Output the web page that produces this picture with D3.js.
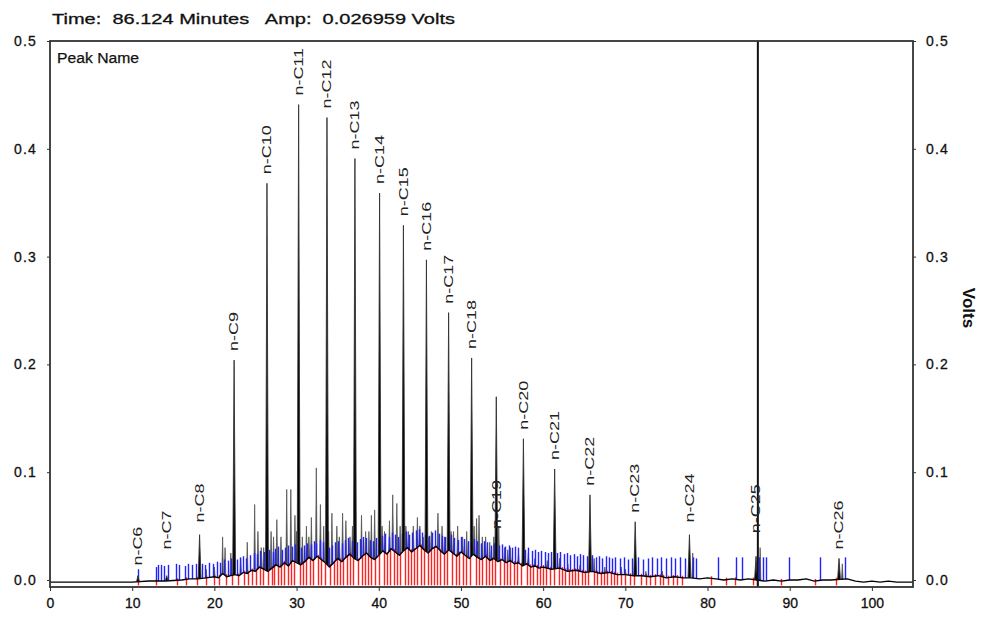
<!DOCTYPE html>
<html>
<head>
<meta charset="utf-8">
<script src="https://cdn.jsdelivr.net/npm/d3@7"></script>
<style>
  body { margin: 0; background: #fff; }
  svg { display: block; font-family: "Liberation Sans", Arial, sans-serif; }
</style>
</head>
<body>
<div id="chart"></div>
<script>
// Labelled n-alkane peaks: name, retention time (min), height (V), level where the label starts (V)
const peakNames = ['n-C6', 'n-C7', 'n-C8', 'n-C9', 'n-C10', 'n-C11', 'n-C12', 'n-C13', 'n-C14', 'n-C15', 'n-C16',
  'n-C17', 'n-C18', 'n-C19', 'n-C20', 'n-C21', 'n-C22', 'n-C23', 'n-C24', 'n-C25', 'n-C26'];
const peakTimes = [10.7, 14.2, 18.2, 22.4, 26.4, 30.25, 33.7, 37.1, 40.1, 43.0, 45.8,
  48.5, 51.3, 54.3, 57.6, 61.4, 65.7, 71.2, 77.8, 85.9, 96.0];
const peakHeights = [0.004, 0.004, 0.042, 0.204, 0.368, 0.441, 0.429, 0.391, 0.359, 0.329, 0.297,
  0.248, 0.206, 0.170, 0.131, 0.103, 0.079, 0.054, 0.042, 0.022, 0.020];
const labelBase = [0.005, 0.020, 0.045, 0.204, 0.368, 0.441, 0.429, 0.391, 0.359, 0.329, 0.297,
  0.248, 0.206, 0.039, 0.131, 0.103, 0.079, 0.054, 0.045, 0.035, 0.020];

// Unlabelled smaller peaks [time, height]
const minorPeaks = [
  [19.0, 0.010], [20.0, 0.012], [21.0, 0.040], [21.3, 0.030], [22.0, 0.025], [23.2, 0.020], [24.0, 0.035],
  [24.9, 0.070], [25.3, 0.045], [25.7, 0.030], [26.0, 0.030], [26.9, 0.045], [27.2, 0.040], [27.6, 0.056],
  [28.1, 0.040], [28.8, 0.084], [29.3, 0.084], [29.8, 0.060], [30.0, 0.045], [30.7, 0.040], [31.2, 0.050],
  [31.5, 0.040], [31.8, 0.058], [32.4, 0.104], [32.9, 0.070], [33.3, 0.050], [33.9, 0.045], [34.3, 0.062],
  [34.9, 0.050], [35.2, 0.040], [35.6, 0.062], [36.0, 0.055], [36.5, 0.040], [36.8, 0.050], [37.9, 0.060],
  [38.4, 0.045], [38.8, 0.045], [39.1, 0.060], [39.5, 0.065], [40.4, 0.050], [40.7, 0.045], [41.3, 0.055],
  [41.7, 0.079], [42.2, 0.071], [42.6, 0.050], [43.3, 0.050], [43.6, 0.045], [44.2, 0.050], [44.7, 0.058],
  [45.0, 0.050], [45.4, 0.040], [46.1, 0.040], [46.4, 0.045], [47.2, 0.062], [47.7, 0.050], [48.0, 0.040],
  [48.8, 0.045], [49.1, 0.045], [49.6, 0.050], [50.2, 0.040], [50.7, 0.045], [51.6, 0.050], [51.9, 0.057],
  [52.2, 0.060], [52.6, 0.040], [53.0, 0.040], [53.5, 0.035], [54.0, 0.040], [54.6, 0.050], [55.3, 0.030],
  [55.7, 0.028], [56.0, 0.030], [57.0, 0.025], [58.2, 0.025], [59.0, 0.020], [60.5, 0.018], [62.0, 0.020],
  [63.0, 0.015], [64.5, 0.014], [66.2, 0.020], [67.5, 0.012], [69.5, 0.012], [70.0, 0.010], [72.5, 0.008],
  [74.5, 0.008], [78.2, 0.025], [86.4, 0.030], [96.4, 0.015]
];

// Baseline / unresolved hump of the trace [time, volts]
const humpPoints = [
  [0, -0.002], [5, -0.002], [8, -0.002], [10, -0.002], [12, -0.001], [14, -0.001], [16, 0.000], [17, 0.001],
  [18, 0.001], [19, 0.002], [20, 0.003], [20.5, 0.002], [21, 0.006], [21.5, 0.003], [22, 0.004], [22.5, 0.005],
  [23, 0.004], [23.5, 0.007], [24, 0.006], [24.5, 0.009], [25, 0.008], [25.5, 0.012], [26, 0.010], [26.5, 0.008],
  [27, 0.011], [27.5, 0.014], [28, 0.012], [28.5, 0.016], [29, 0.013], [29.5, 0.018], [30, 0.016], [30.5, 0.014],
  [31, 0.017], [31.5, 0.021], [32, 0.018], [32.5, 0.022], [33, 0.019], [33.5, 0.016], [34, 0.012], [34.5, 0.016],
  [35, 0.020], [35.5, 0.017], [36, 0.021], [36.5, 0.024], [37, 0.020], [37.5, 0.018], [38, 0.022], [38.5, 0.025],
  [39, 0.021], [39.5, 0.019], [40, 0.023], [40.5, 0.027], [41, 0.024], [41.5, 0.029], [42, 0.026], [42.5, 0.023],
  [43, 0.027], [43.5, 0.030], [44, 0.026], [44.5, 0.029], [45, 0.032], [45.5, 0.028], [46, 0.025], [46.5, 0.029],
  [47, 0.031], [47.5, 0.027], [48, 0.024], [48.5, 0.028], [49, 0.025], [49.5, 0.022], [50, 0.026], [50.5, 0.023],
  [51, 0.020], [51.5, 0.024], [52, 0.021], [52.5, 0.019], [53, 0.022], [53.5, 0.018], [54, 0.020], [54.5, 0.017],
  [55, 0.019], [55.5, 0.016], [56, 0.018], [56.5, 0.015], [57, 0.016], [57.5, 0.013], [58, 0.015], [58.5, 0.012],
  [59, 0.013], [59.5, 0.011], [60, 0.012], [61, 0.010], [62, 0.011], [63, 0.008], [64, 0.009], [65, 0.007],
  [66, 0.008], [67, 0.006], [68, 0.007], [69, 0.005], [70, 0.005], [71, 0.004], [72, 0.004], [73, 0.003],
  [74, 0.004], [75, 0.002], [76, 0.003], [77, 0.002], [78, 0.002], [79, 0.001], [80, 0.002], [81, 0.001],
  [82, 0.000], [83, 0.001], [84, 0.000], [85, 0.001], [86, 0.000], [87, -0.001], [88, 0.000], [89, -0.001],
  [90, 0.000], [91, 0.000], [92, 0.001], [93, -0.001], [94, 0.000], [95, 0.000], [97, 0.001], [98, -0.001],
  [99, -0.002], [100, -0.001], [101, -0.002], [102, -0.001], [103, -0.002], [105, -0.002]
];

// Blue peak-start markers [time, top volts]
const blueTicks = [
  [10.7, 0.010], [12.9, 0.012], [13.1, 0.014], [13.5, 0.014], [13.9, 0.013], [14.4, 0.014], [15.3, 0.015],
  [15.7, 0.014], [16.4, 0.013], [16.8, 0.015], [17.3, 0.014], [17.8, 0.015], [18.5, 0.015], [18.9, 0.014],
  [19.3, 0.016], [19.8, 0.015], [20.3, 0.017], [20.7, 0.016], [21.2, 0.019], [21.6, 0.018], [22.0, 0.020],
  [22.7, 0.019], [23.1, 0.021], [23.5, 0.022], [23.9, 0.020], [24.3, 0.023], [24.8, 0.025], [25.2, 0.024],
  [25.6, 0.027], [26.0, 0.026], [26.7, 0.028], [27.1, 0.026], [27.4, 0.029], [27.8, 0.031], [28.2, 0.028],
  [28.6, 0.030], [29.0, 0.032], [29.4, 0.031], [29.8, 0.033], [30.5, 0.030], [30.9, 0.032], [31.3, 0.034],
  [31.7, 0.033], [32.1, 0.036], [32.4, 0.034], [32.8, 0.037], [33.2, 0.035], [33.9, 0.030], [34.3, 0.032],
  [34.7, 0.035], [35.1, 0.036], [35.5, 0.034], [35.9, 0.037], [36.3, 0.039], [36.7, 0.036], [37.3, 0.035],
  [37.7, 0.038], [38.1, 0.040], [38.5, 0.039], [38.9, 0.037], [39.3, 0.036], [39.7, 0.039], [40.4, 0.041],
  [40.8, 0.043], [41.2, 0.040], [41.6, 0.044], [42.0, 0.042], [42.4, 0.040], [42.8, 0.043], [43.3, 0.045],
  [43.7, 0.042], [44.1, 0.044], [44.5, 0.046], [44.9, 0.047], [45.3, 0.044], [45.6, 0.042], [46.1, 0.041],
  [46.5, 0.044], [46.9, 0.046], [47.3, 0.043], [47.7, 0.041], [48.1, 0.040], [48.8, 0.042], [49.2, 0.039],
  [49.6, 0.037], [50.0, 0.040], [50.4, 0.038], [50.8, 0.036], [51.6, 0.038], [52.0, 0.036], [52.4, 0.034],
  [52.8, 0.036], [53.2, 0.035], [53.6, 0.032], [54.0, 0.034], [54.6, 0.032], [55.0, 0.033], [55.4, 0.031],
  [55.8, 0.032], [56.2, 0.030], [56.6, 0.031], [57.0, 0.030], [57.8, 0.028], [58.2, 0.030], [58.6, 0.027],
  [59.0, 0.028], [59.4, 0.026], [59.8, 0.027], [60.2, 0.026], [60.6, 0.025], [61.0, 0.026], [61.7, 0.025],
  [62.1, 0.026], [62.5, 0.024], [62.9, 0.025], [63.3, 0.023], [63.7, 0.024], [64.1, 0.022], [64.5, 0.024],
  [64.9, 0.023], [65.3, 0.022], [66.0, 0.023], [66.4, 0.021], [66.8, 0.022], [67.2, 0.020], [67.6, 0.022],
  [68.0, 0.021], [68.4, 0.020], [68.8, 0.021], [69.3, 0.020], [69.8, 0.021], [70.3, 0.019], [70.8, 0.020],
  [71.6, 0.021], [72.2, 0.019], [72.7, 0.020], [73.3, 0.021], [73.9, 0.020], [74.4, 0.021], [74.9, 0.020],
  [75.5, 0.021], [76.0, 0.020], [76.6, 0.021], [77.3, 0.020], [78.2, 0.021], [78.6, 0.020], [81.3, 0.021],
  [83.5, 0.021], [84.2, 0.021], [86.3, 0.021], [86.7, 0.021], [87.1, 0.021], [89.9, 0.021], [93.7, 0.021],
  [96.7, 0.021]
];

// Red baseline-drop markers (time, min)
const redTicks = [
  10.7, 12.9, 15.5, 16.6, 17.9, 19.0, 19.9, 20.6, 21.4, 22.1, 22.9, 23.6, 24.1, 24.6, 25.1, 25.5, 25.9, 26.5,
  27.0, 27.3, 27.7, 28.1, 28.5, 28.9, 29.3, 29.7, 30.4, 30.8, 31.2, 31.6, 32.0, 32.6, 33.0, 33.5, 34.1, 34.5,
  34.9, 35.3, 35.7, 36.1, 36.5, 36.9, 37.5, 37.9, 38.3, 38.7, 39.1, 39.5, 40.0, 40.6, 41.0, 41.4, 41.8, 42.2,
  42.6, 43.2, 43.5, 43.9, 44.3, 44.7, 45.1, 45.5, 46.0, 46.3, 46.7, 47.1, 47.5, 47.9, 48.3, 48.9, 49.4, 49.8,
  50.2, 50.6, 51.1, 51.8, 52.2, 52.6, 53.0, 53.4, 53.8, 54.2, 54.8, 55.2, 55.6, 56.0, 56.4, 56.8, 57.3, 58.0,
  58.4, 58.8, 59.2, 59.6, 60.0, 60.4, 60.8, 61.3, 61.9, 62.3, 62.7, 63.1, 63.5, 63.9, 64.3, 64.7, 65.1, 65.5,
  66.2, 66.6, 67.0, 67.4, 67.8, 68.2, 68.6, 69.0, 69.5, 70.0, 70.6, 71.0, 71.9, 72.5, 73.0, 73.6, 74.2, 74.6,
  75.2, 75.8, 76.3, 76.9, 80.4, 82.3, 83.4, 85.5, 86.0, 88.9, 93.1, 95.6
];

const xTicks = [0, 10, 20, 30, 40, 50, 60, 70, 80, 90, 100];
const yTicks = [0.0, 0.1, 0.2, 0.3, 0.4, 0.5];
const cursorTime = 86.124;
const cursorAmp = 0.026959;
const redFloor = -0.005;

const width = 989, height = 617;
const margin = {top: 41, right: 76, bottom: 30, left: 50};

const svg = d3.select('#chart').append('svg')
  .attr('width', width)
  .attr('height', height);

// Scales
const x = d3.scaleLinear().domain([0, 105]).range([margin.left, width - margin.right]);
const y = d3.scaleLinear().domain([-0.0065, 0.5]).range([height - margin.bottom, margin.top]);
// trace level at any time, piecewise linear through the hump points
const level = d3.scaleLinear().domain(humpPoints.map(d => d[0])).range(humpPoints.map(d => d[1])).clamp(true);

const line = d3.line().x(d => x(d[0])).y(d => y(d[1]));
function spike(t, h, hw) {
  return line([[t - hw, level(t - hw)], [t, h], [t + hw, level(t + hw)]]);
}

const plot = svg.append('g');

// Red markers
plot.append('g').selectAll('line')
  .data(redTicks)
  .enter().append('line')
  .attr('x1', d => Math.round(x(d)) + 0.5).attr('x2', d => Math.round(x(d)) + 0.5)
  .attr('y1', d => y(level(d)) - 2).attr('y2', y(redFloor))
  .attr('stroke', '#ff2222')
  .attr('stroke-width', 1.4);

// Small peaks, thin and grey
plot.append('g').selectAll('path')
  .data(minorPeaks)
  .enter().append('path')
  .attr('d', d => spike(d[0], d[1], 0.09))
  .attr('fill', '#333')
  .attr('stroke', '#555')
  .attr('stroke-width', 0.8);

// Blue markers
plot.append('g').selectAll('line')
  .data(blueTicks)
  .enter().append('line')
  .attr('x1', d => Math.round(x(d[0])) + 0.5).attr('x2', d => Math.round(x(d[0])) + 0.5)
  .attr('y1', d => y(level(d[0]))).attr('y2', d => y(d[1]))
  .attr('stroke', '#2222ff')
  .attr('stroke-width', 1.4);

// Trace baseline
plot.append('path')
  .datum(humpPoints)
  .attr('d', line)
  .attr('fill', 'none')
  .attr('stroke', '#000')
  .attr('stroke-width', 1.4)
  .attr('stroke-linejoin', 'round');

// Labelled peaks
plot.append('g').selectAll('path')
  .data(peakTimes)
  .enter().append('path')
  .attr('d', (d, i) => spike(d, peakHeights[i], 0.17))
  .attr('fill', '#000')
  .attr('stroke', '#333')
  .attr('stroke-width', 0.9)
  .attr('stroke-linejoin', 'miter');

// Cursor line
plot.append('line')
  .attr('x1', x(cursorTime)).attr('x2', x(cursorTime))
  .attr('y1', margin.top).attr('y2', height - margin.bottom)
  .attr('stroke', '#111')
  .attr('stroke-width', 2);

// Peak labels, rotated, reading upward
svg.append('g').selectAll('text')
  .data(peakNames)
  .enter().append('text')
  .attr('transform', (d, i) => 'translate(' + (x(peakTimes[i]) + 4.3) + ',' + (y(labelBase[i]) - 9) + ') rotate(-90) scale(1.5,1)')
  .attr('font-size', 12)
  .attr('fill', '#222')
  .text(d => d);

// Frame
svg.append('rect')
  .attr('x', margin.left).attr('y', margin.top)
  .attr('width', width - margin.left - margin.right)
  .attr('height', height - margin.top - margin.bottom)
  .attr('fill', 'none')
  .attr('stroke', '#333')
  .attr('stroke-width', 1.8);

// Axes
const fmt = d3.format('.1f');
const gX = svg.append('g')
  .attr('transform', 'translate(0,' + (height - margin.bottom) + ')')
  .call(d3.axisBottom(x).tickValues(xTicks).tickSize(4).tickPadding(7));
const gL = svg.append('g')
  .attr('transform', 'translate(' + margin.left + ',0)')
  .call(d3.axisLeft(y).tickValues(yTicks).tickFormat(fmt).tickSize(3).tickPadding(10));
const gR = svg.append('g')
  .attr('transform', 'translate(' + (width - margin.right) + ',0)')
  .call(d3.axisRight(y).tickValues(yTicks).tickFormat(fmt).tickSize(3).tickPadding(10));

[gX, gL, gR].forEach(g => {
  g.select('.domain').remove();
  g.selectAll('.tick line').attr('stroke', '#333');
  g.selectAll('.tick text')
    .attr('font-family', '"Liberation Sans", Arial, sans-serif')
    .attr('font-size', 14)
    .attr('fill', '#111')
    .attr('stroke', '#111')
    .attr('stroke-width', 0.3);
});
gL.selectAll('.tick text').attr('letter-spacing', 1.2);
gR.selectAll('.tick text').attr('letter-spacing', 1.2);

// Axis title
svg.append('text')
  .attr('transform', 'translate(963,308) rotate(90)')
  .attr('text-anchor', 'middle')
  .attr('font-size', 17)
  .attr('font-weight', 'bold')
  .attr('fill', '#111')
  .text('Volts');

// Cursor readout
svg.append('text')
  .attr('x', 52).attr('y', 24)
  .attr('font-size', 15)
  .attr('fill', '#111')
  .attr('stroke', '#111')
  .attr('stroke-width', 0.3)
  .attr('textLength', 403)
  .attr('lengthAdjust', 'spacingAndGlyphs')
  .style('white-space', 'pre')
  .text('Time:  ' + cursorTime.toFixed(3) + ' Minutes   Amp:  ' + cursorAmp.toFixed(6) + ' Volts');

svg.append('text')
  .attr('x', 57).attr('y', 63)
  .attr('font-size', 14)
  .attr('fill', '#111')
  .attr('stroke', '#111')
  .attr('stroke-width', 0.25)
  .attr('textLength', 82)
  .attr('lengthAdjust', 'spacingAndGlyphs')
  .text('Peak Name');
</script>
</body>
</html>
